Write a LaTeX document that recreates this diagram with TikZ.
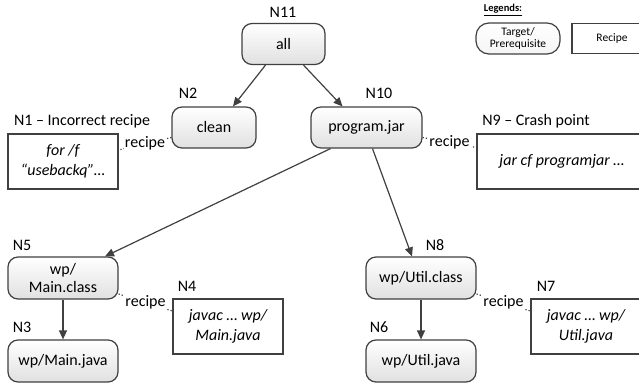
\documentclass[tikz,border=0pt]{standalone}
\usepackage{fontspec}
\setmainfont{Carlito}
\usepackage{xcolor}
\usepackage{tikz}
\usetikzlibrary{positioning,arrows.meta}

\begin{document}
\begin{tikzpicture}[
  x=1pt, y=-1pt,
  target/.style={draw=black!75, line width=1.2pt, rounded corners=10pt, top color=white, bottom color=black!12, align=center, font=\fontsize{16}{17.5}\selectfont, inner sep=0pt, minimum height=41pt},
  recipebox/.style={draw=black!75, line width=1.2pt, fill=white, align=center, font=\fontsize{16}{19.5}\selectfont\itshape, inner sep=0pt, minimum width=110pt, minimum height=55pt},
  tag/.style={font=\fontsize{16}{17}\selectfont, inner sep=0pt},
  arr/.style={-{Triangle[length=9pt, width=8pt]}, line width=1.2pt, draw=black!75},
  recipeln/.style={dotted, line width=1.2pt, draw=black!75},
  recipetxt/.style={fill=white, inner sep=1pt, font=\fontsize{16}{17}\selectfont}
]
\useasboundingbox (0,0) rectangle (639,383);

% targets
\node[target, minimum width=83pt] (n11) at (283.5,44) {all};
\node[target, minimum width=84pt] (n2) at (214,127.5) {clean};
\node[target, minimum width=111pt] (n10) at (366.5,127.5) {program.jar};
\node[target, minimum width=110pt, minimum height=42pt] (n5) at (63,278) {wp/\\Main.class};
\node[target, minimum width=110pt, minimum height=42pt] (n3) at (63,361) {wp/Main.java};
\node[target, minimum width=110pt, minimum height=42pt] (n8) at (421,278) {wp/Util.class};
\node[target, minimum width=110pt, minimum height=42pt] (n6) at (421,361) {wp/Util.java};

% recipes
\node[recipebox] (n1) at (63,161.5) {for /f\\``usebackq''\dots};
\node[recipebox, minimum width=170pt] (n9) at (562,161.5) {jar cf programjar \dots};
\node[recipebox] (n4) at (228,326.5) {javac \dots\ wp/\\Main.java};
\node[recipebox] (n7) at (586,326.5) {javac \dots\ wp/\\Util.java};

% node names
\node[tag] (t11) at (283,12) {N11};
\node[tag] (t2) at (188,93) {N2};
\node[tag] (t10) at (379,93) {N10};
\node[tag] (t1) at (82,121) {N1 -- Incorrect recipe};
\node[tag] (t9) at (536,121) {N9 -- Crash point};
\node[tag] (t5) at (22,245) {N5};
\node[tag] (t3) at (22,327) {N3};
\node[tag] (t4) at (187,286) {N4};
\node[tag] (t8) at (435,245) {N8};
\node[tag] (t6) at (379,327) {N6};
\node[tag] (t7) at (546,286) {N7};

% prerequisites
\draw[arr] ([xshift=-18pt]n11.south) -- ([xshift=19pt]n2.north);
\draw[arr] ([xshift=20pt]n11.south) -- ([xshift=-24pt]n10.north);
\draw[arr] ([xshift=-36pt]n10.south) -- ([xshift=42pt]n5.north);
\draw[arr] ([xshift=6pt]n10.south) -- ([xshift=-9pt]n8.north);
\draw[arr] (n5) -- (n3);
\draw[arr] (n8) -- (n6);

% recipe links
\draw[recipeln] ([yshift=-10pt]n2.west) -- node[recipetxt] {recipe} ([yshift=11.5pt]n1.east);
\draw[recipeln] ([yshift=-10pt]n10.east) -- node[recipetxt] {recipe} ([yshift=14pt]n9.west);
\draw[recipeln] ([yshift=-16pt]n5.east) -- node[recipetxt] {recipe} ([yshift=15.5pt]n4.west);
\draw[recipeln] ([yshift=-16pt]n8.east) -- node[recipetxt] {recipe} ([yshift=15.5pt]n7.west);

% legend
\node[font=\fontsize{10.5}{12}\selectfont\bfseries, inner sep=0pt] (lgd) at (503,10) {\underline{Legends:}};
\node[target, rounded corners=13pt, minimum width=84pt, minimum height=31pt, top color=white, bottom color=black!4, font=\fontsize{11.5}{12.5}\selectfont] (ltarget) at (518,38.5) {Target/\\Prerequisite};
\node[recipebox, minimum width=80pt, minimum height=30pt, font=\fontsize{11.5}{12.5}\selectfont] (lrecipe) at (612,38.5) {Recipe};
\end{tikzpicture}
\end{document}
